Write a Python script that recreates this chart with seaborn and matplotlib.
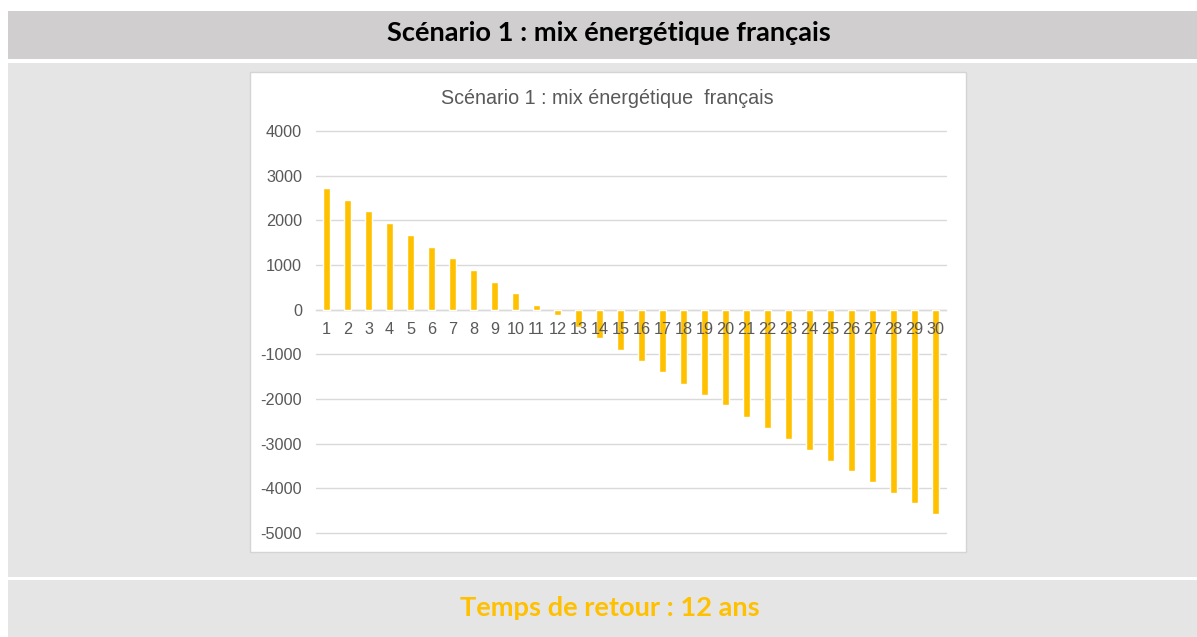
import matplotlib
matplotlib.use("Agg")
import matplotlib.pyplot as plt
from matplotlib.patches import Rectangle
import seaborn as sns
import pandas as pd

# ---- data ----
years = [str(i) for i in range(1, 31)]
cumulative = [2716, 2448, 2209, 1933, 1664, 1396, 1157, 881, 612, 373,
              108, -130, -385, -638, -903, -1146, -1386, -1663, -1903, -2142,
              -2412, -2659, -2891, -3139, -3378, -3618, -3858, -4097, -4337, -4577]
y_ticks = [4000, 3000, 2000, 1000, 0, -1000, -2000, -3000, -4000, -5000]
header_title = "Scénario 1 : mix énergétique français"
chart_title = "Scénario 1 : mix énergétique  français"
footer_text = "Temps de retour : 12 ans"

df = pd.DataFrame({"annee": years, "valeur": cumulative})

sns.set_theme(style="white")
plt.rcParams["font.family"] = ["Liberation Sans", "DejaVu Sans"]

W, H = 1197, 637
fig = plt.figure(figsize=(W / 100, H / 100), dpi=100)
fig.patch.set_facecolor("white")

def fx(px):
    return px / W

def fy(py):
    return 1 - py / H

# background bands
fig.patches.append(Rectangle((fx(8), fy(59)), fx(1197 - 8), (59 - 11) / H,
                             transform=fig.transFigure, facecolor="#d0cece",
                             edgecolor="none", zorder=0))
fig.patches.append(Rectangle((fx(8), fy(577)), fx(1197 - 8), (577 - 63) / H,
                             transform=fig.transFigure, facecolor="#e5e5e5",
                             edgecolor="none", zorder=0))
fig.patches.append(Rectangle((fx(8), fy(637)), fx(1197 - 8), (637 - 580) / H,
                             transform=fig.transFigure, facecolor="#e5e5e5",
                             edgecolor="none", zorder=0))
# chart box
fig.patches.append(Rectangle((fx(250), fy(552)), fx(966 - 250), (552 - 72) / H,
                             transform=fig.transFigure, facecolor="white",
                             edgecolor="#d4d4d4", linewidth=1.0, zorder=1))

ax = fig.add_axes([fx(316), fy(533), fx(946 - 316), (533 - 131) / H])
ax.set_facecolor("none")
ax.set_zorder(2)

sns.barplot(data=df, x="annee", y="valeur", color="#ffc000", saturation=1,
            width=0.33, ax=ax, zorder=3)

ax.set_ylim(-5000, 4000)
ax.set_xlim(-0.5, len(years) - 0.5)
ax.set_yticks(y_ticks)
ax.set_yticklabels([str(v) for v in y_ticks])
ax.set_xlabel("")
ax.set_ylabel("")

ax.yaxis.grid(True, color="#d9d9d9", linewidth=1.0)
ax.xaxis.grid(False)
ax.set_axisbelow(True)
ax.xaxis.set_zorder(5)
for gl in ax.get_ygridlines():
    gl.set_clip_on(False)

for s in ["top", "right", "left"]:
    ax.spines[s].set_visible(False)
ax.spines["bottom"].set_position(("data", 0))
ax.spines["bottom"].set_color("#d9d9d9")
ax.spines["bottom"].set_linewidth(1.0)

ax.tick_params(axis="y", length=0, pad=10, labelsize=11.7, labelcolor="#595959")
ax.tick_params(axis="x", length=0, pad=9, labelsize=11.7, labelcolor="#595959")

fig.text(fx(607), fy(99), chart_title, ha="center", va="center",
         fontsize=14.2, color="#595959")

# header and footer texts (Calibri-like bold)
renderer = fig.canvas.get_renderer()

def fit_text(x, y, s, target_w, color, base=16):
    t = fig.text(x, y, s, ha="center", va="center", fontsize=base,
                 fontweight="bold", color=color, family=["Lato", "DejaVu Sans"])
    w = t.get_window_extent(renderer=renderer).width
    t.set_fontsize(base * target_w / w)
    return t

fit_text(fx(609), fy(33), header_title, 448, "black")
fit_text(fx(609.5), fy(608), footer_text, 301, "#ffc000")

fig.savefig("out.png", dpi=100, facecolor="white")
